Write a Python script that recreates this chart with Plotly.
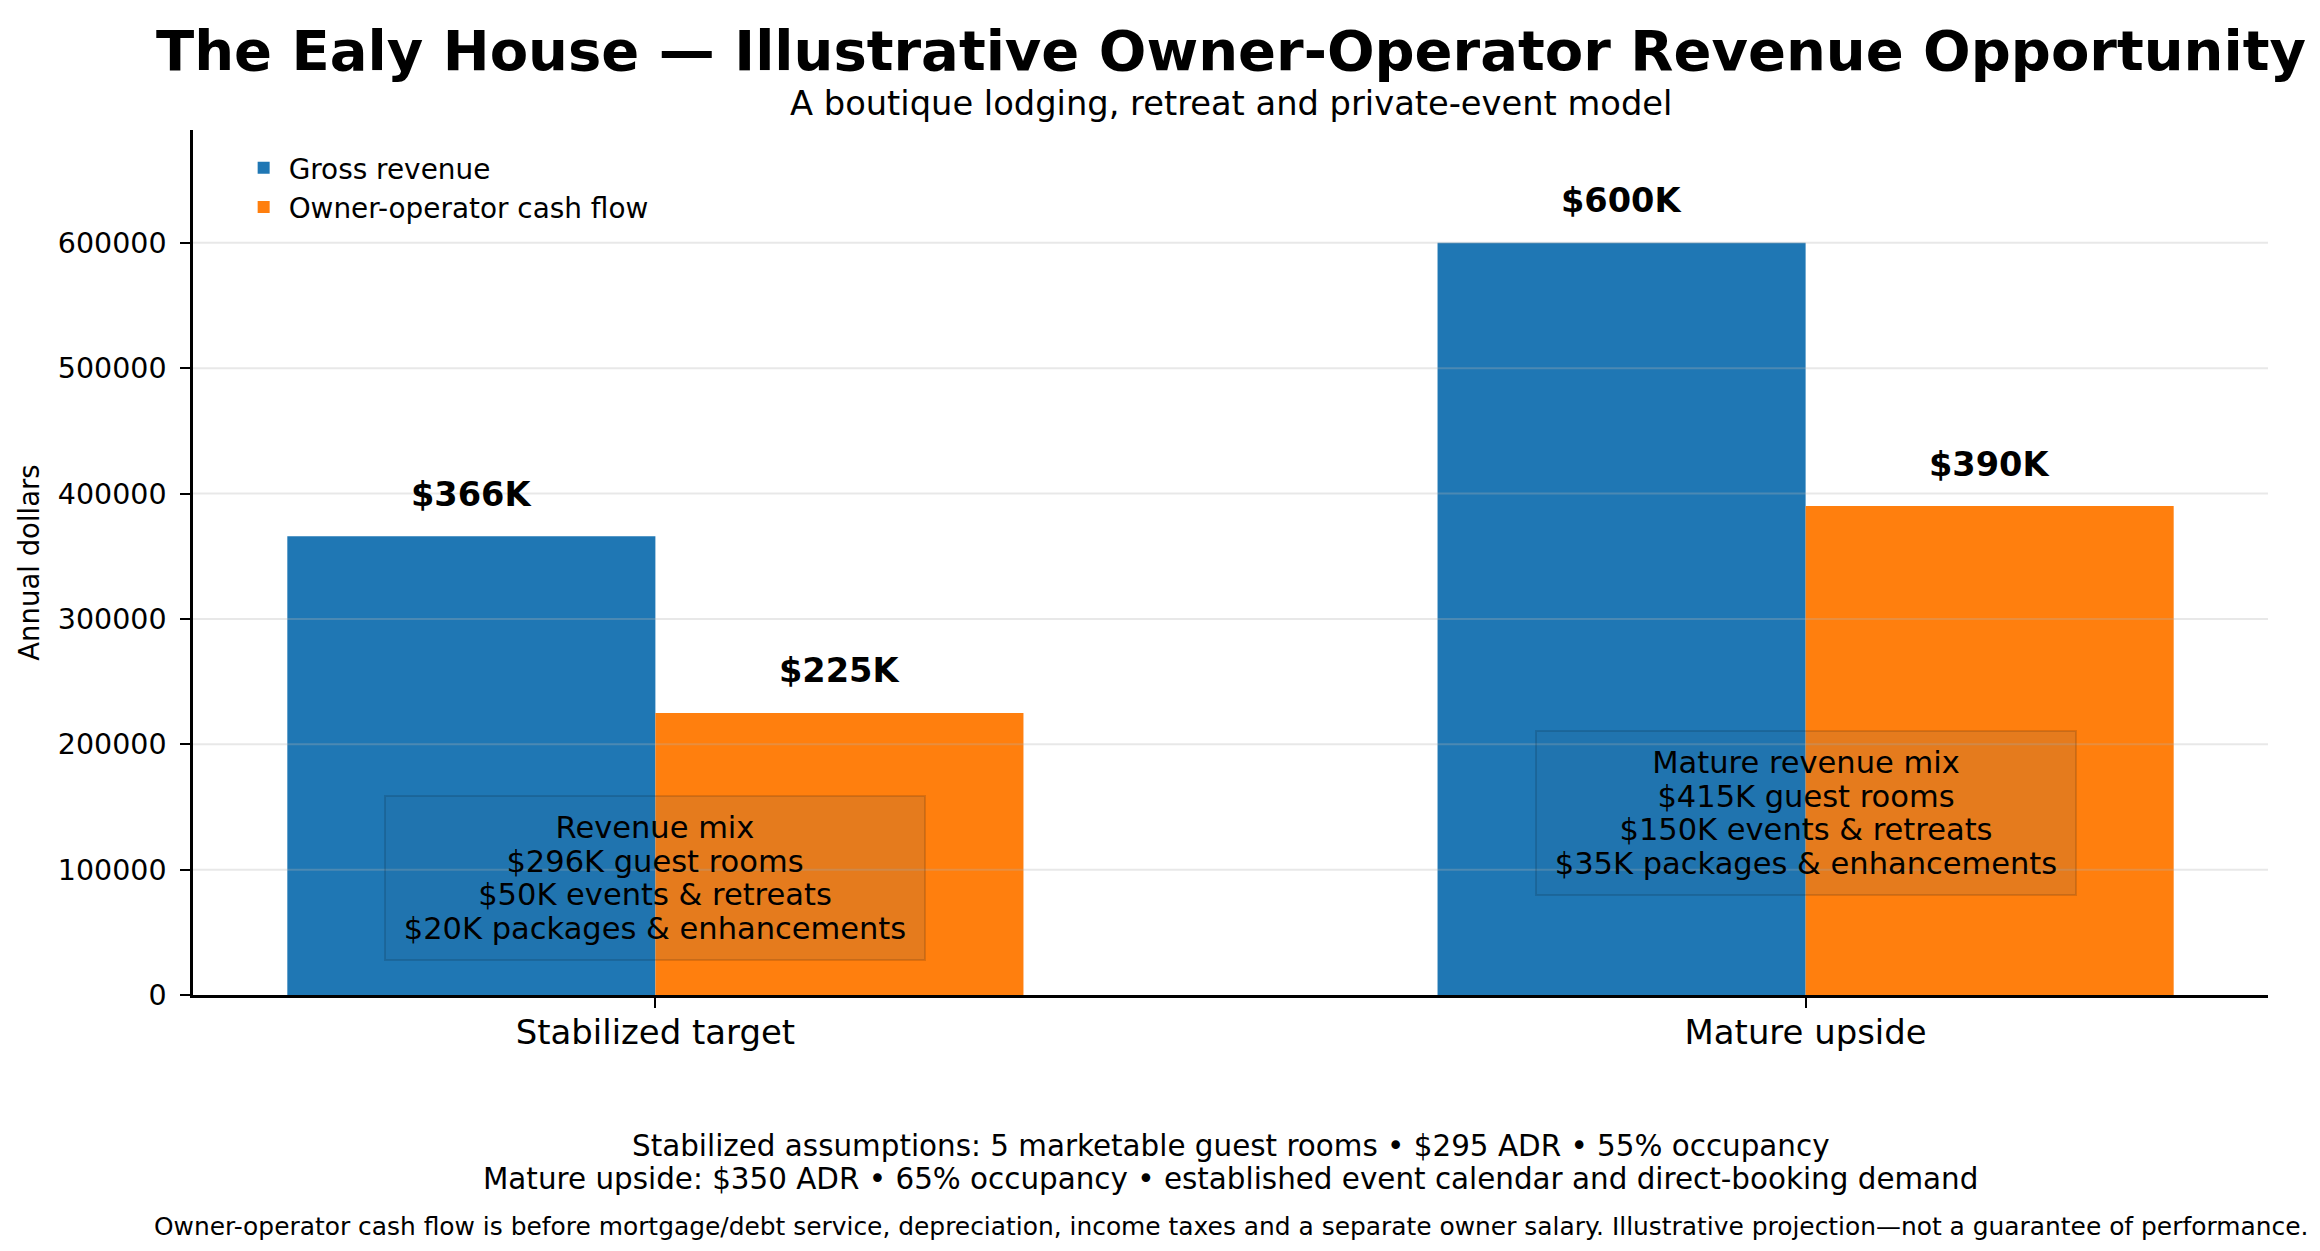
import plotly.graph_objects as go

# ---- data ----
categories = ["Stabilized target", "Mature upside"]
gross_revenue = [366000, 600000]
cash_flow = [225000, 390000]
gross_labels = ["$366K", "$600K"]
cash_labels = ["$225K", "$390K"]
mix_titles = ["Revenue mix", "Mature revenue mix"]
mix_rooms = ["$296K guest rooms", "$415K guest rooms"]
mix_events = ["$50K events & retreats", "$150K events & retreats"]
mix_packages = ["$20K packages & enhancements", "$35K packages & enhancements"]
mix_box_y = [93000, 145000]
y_ticks = [0, 100000, 200000, 300000, 400000, 500000, 600000]

BLUE = "#1f77b4"
ORANGE = "#ff7f0e"
FONT = "DejaVu Sans"

W, H = 2320, 1251
ML, MR, MT, MB = 185, 60, 122, 264
PLOT_H = H - MT - MB
BAR_W = 0.32


def py(px):
    """pixel row -> paper y"""
    return (H - MB - px) / PLOT_H


fig = go.Figure()
fig.add_trace(go.Bar(name="Gross revenue", x=categories, y=gross_revenue,
                     marker=dict(color=BLUE, line=dict(width=0))))
fig.add_trace(go.Bar(name="Owner-operator cash flow", x=categories, y=cash_flow,
                     marker=dict(color=ORANGE, line=dict(width=0))))


def big(s):
    return '<span style="font-size:30.5px">%s</span>' % s


annotations = []
for i in range(len(categories)):
    annotations.append(dict(x=i - BAR_W / 2, y=gross_revenue[i], xref="x", yref="y",
                            text="<b>%s</b>" % gross_labels[i], showarrow=False,
                            yanchor="middle", yshift=42,
                            font=dict(family=FONT, size=33.6, color="black")))
    annotations.append(dict(x=i + BAR_W / 2, y=cash_flow[i], xref="x", yref="y",
                            text="<b>%s</b>" % cash_labels[i], showarrow=False,
                            yanchor="middle", yshift=42,
                            font=dict(family=FONT, size=33.6, color="black")))
    annotations.append(dict(x=i, y=mix_box_y[i], xref="x", yref="y",
                            text="<br>".join(big(s) for s in [mix_titles[i], mix_rooms[i], mix_events[i], mix_packages[i]]),
                            showarrow=False, align="center", xanchor="center", yanchor="middle",
                            width=516, height=140,
                            bgcolor="rgba(40,100,140,0.12)", bordercolor="rgba(0,0,0,0.13)",
                            borderwidth=2, borderpad=11,
                            font=dict(family=FONT, size=26, color="black")))

# titles and footer
annotations += [
    dict(x=0.5, y=py(42), xref="paper", yref="paper", showarrow=False,
         text="<b>The Ealy House — Illustrative Owner-Operator Revenue Opportunity</b>",
         yanchor="middle", font=dict(family=FONT, size=56, color="black")),
    dict(x=0.5, y=py(95), xref="paper", yref="paper", showarrow=False,
         text="A boutique lodging, retreat and private-event model",
         yanchor="middle", font=dict(family=FONT, size=33.7, color="black")),
    dict(x=0.5, y=py(1138), xref="paper", yref="paper", showarrow=False,
         text="Stabilized assumptions: 5 marketable guest rooms • $295 ADR • 55% occupancy",
         yanchor="middle", font=dict(family=FONT, size=29.4, color="black")),
    dict(x=0.5, y=py(1171), xref="paper", yref="paper", showarrow=False,
         text="Mature upside: $350 ADR • 65% occupancy • established event calendar and direct-booking demand",
         yanchor="middle", font=dict(family=FONT, size=29.4, color="black")),
    dict(x=0.5, y=py(1219), xref="paper", yref="paper", showarrow=False,
         text="Owner-operator cash flow is before mortgage/debt service, depreciation, income taxes and a separate owner salary. Illustrative projection—not a guarantee of performance.",
         yanchor="middle", font=dict(family=FONT, size=24.9, color="black")),
]

# light grid drawn above the bars, as in the reference
shapes = [dict(type="line", xref="paper", yref="y", x0=0, x1=1, y0=v, y1=v,
               line=dict(color="rgba(180,180,180,0.3)", width=2), layer="above")
          for v in y_ticks if v > 0]

fig.update_layout(
    width=W, height=H,
    margin=dict(l=ML, r=MR, t=MT, b=MB, autoexpand=False),
    paper_bgcolor="white", plot_bgcolor="white",
    barmode="group", bargap=1 - 2 * BAR_W, bargroupgap=0,
    font=dict(family=FONT, size=27.5, color="black"),
    showlegend=True,
    legend=dict(x=0.022, y=py(135), xanchor="left", yanchor="top",
                bgcolor="rgba(0,0,0,0)", borderwidth=0,
                font=dict(family=FONT, size=27.9, color="black"),
                itemwidth=40, tracegroupgap=0),
    annotations=annotations,
    shapes=shapes,
)
fig.update_xaxes(type="category", range=[-0.402, 1.402], automargin=False,
                 showline=True, linecolor="black", linewidth=2.5, mirror=False,
                 ticks="outside", ticklen=10, tickwidth=2, tickcolor="black",
                 tickfont=dict(family=FONT, size=33.9, color="black"),
                 showgrid=False, zeroline=False, ticklabelstandoff=-4)
fig.update_yaxes(range=[0, 690000], tickvals=y_ticks, tickformat="d", automargin=False,
                 showline=True, linecolor="black", linewidth=2.5,
                 ticks="outside", ticklen=10, tickwidth=2, tickcolor="black",
                 tickfont=dict(family=FONT, size=28.5, color="black"),
                 showgrid=False, zeroline=False, ticklabelstandoff=8,
                 title=dict(text="Annual dollars", standoff=11,
                            font=dict(family=FONT, size=27.5, color="black")))

fig.write_html("out.html")
